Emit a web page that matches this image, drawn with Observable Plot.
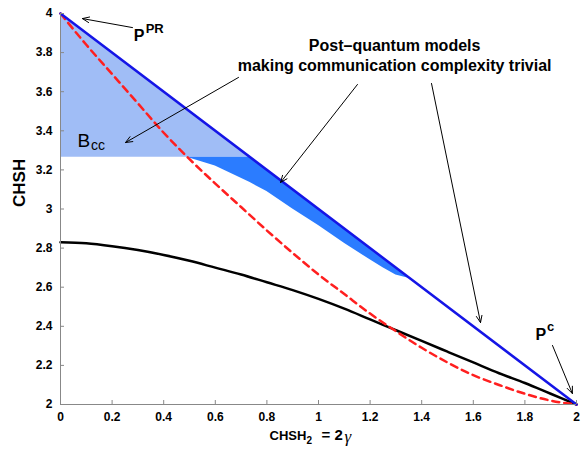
<!DOCTYPE html>
<html><head><meta charset="utf-8">
<script src="https://cdn.jsdelivr.net/npm/d3@7"></script>
<script src="https://cdn.jsdelivr.net/npm/@observablehq/plot@0.6"></script>
<style>body{margin:0;background:#fff}</style>
</head><body><div id="chart"></div>
<script>
// ---- data ----
const gamma = [0,0.1,0.2,0.3,0.4,0.5,0.6,0.7,0.8,0.9,1.0,1.1,1.2,1.3,1.4,1.5,1.6,1.7,1.8,1.9,2.0];
const redCHSH = [4.00,3.84,3.69,3.54,3.39,3.255,3.13,3.01,2.89,2.775,2.665,2.565,2.465,2.375,2.29,2.215,2.15,2.10,2.055,2.02,2.00];
const blackCHSH = [2.83,2.825,2.81,2.79,2.765,2.735,2.70,2.665,2.625,2.585,2.54,2.49,2.435,2.38,2.325,2.27,2.215,2.16,2.11,2.055,2.00];
const blueX = [0, 2];
const blueCHSH = [4, 2];
// B_cc region (light)
const lightX = [0, 0.735];
const lightLow = [3.265, 3.265];
const lightHigh = [4.0, 3.265];
// post-quantum trivial CC region (dark)
const darkX = [0.49,0.60,0.735,0.80,0.90,1.00,1.10,1.20,1.25,1.30,1.357];
const darkLow = [3.265,3.22,3.135,3.09,3.00,2.915,2.825,2.74,2.70,2.662,2.643];
const darkHigh = [3.265,3.265,3.265,3.20,3.10,3.00,2.90,2.80,2.75,2.70,2.643];
const xTicks = [0,0.2,0.4,0.6,0.8,1,1.2,1.4,1.6,1.8,2];
const yTicks = [2,2.2,2.4,2.6,2.8,3,3.2,3.4,3.6,3.8,4];
const xTitleMain = ["CHSH"];
const xTitleSub = ["2"];
const xTitleEq = ["= 2"];
const xTitleGamma = ["\u03B3"];
const yTitle = ["CHSH"];
// annotations
const arrowX1 = [0.279, 0.690, 1.151, 1.438, 1.907];
const arrowY1 = [3.928, 3.673, 3.637, 3.642, 2.302];
const arrowX2 = [0.085, 0.252, 0.853, 1.628, 1.984];
const arrowY2 = [3.974, 3.340, 3.136, 2.419, 2.056];
const boldText = ["P", "Post\u2013quantum models", "making communication complexity trivial", "P"];
const boldX = [0.305, 1.295, 1.295, 1.862];
const boldY = [3.857, 3.806, 3.708, 2.332];
const boldAnchor = ["start", "middle", "middle", "start"];
const supText = ["PR", "c"];
const supX = [0.330, 1.886];
const supY = [3.898, 2.378];
const bccText = ["B"];
const bccX = [0.066];
const bccY = [3.315];
const subText = ["cc"];
const subX = [0.118];
const subY = [3.304];

const font = "'Liberation Sans', Arial, Helvetica, sans-serif";
const rows = (xs, ...cols) => xs.map((x, i) => [x, ...cols.map(c => c[i])]);

const chart = Plot.plot({
  width: 582, height: 451,
  marginLeft: 60, marginRight: 6, marginTop: 13, marginBottom: 47,
  x: {domain: [0, 2]},
  y: {domain: [2, 4]},
  style: {fontFamily: font, fontSize: "12px", fontWeight: "bold", background: "white", color: "black"},
  marks: [
    Plot.areaY(rows(lightX, lightLow, lightHigh), {x: d => d[0], y1: d => d[1], y2: d => d[2], fill: "#a0bdf6"}),
    Plot.areaY(rows(darkX, darkLow, darkHigh), {x: d => d[0], y1: d => d[1], y2: d => d[2], fill: "#2b7cff"}),
    Plot.line(rows(gamma, blackCHSH), {x: d => d[0], y: d => d[1], stroke: "black", strokeWidth: 2.5, curve: "monotone-x"}),
    Plot.line(rows(gamma, redCHSH), {x: d => d[0], y: d => d[1], stroke: "#ff1f1f", strokeWidth: 2.5, strokeDasharray: "7,5", curve: "monotone-x"}),
    Plot.line(rows(blueX, blueCHSH), {x: d => d[0], y: d => d[1], stroke: "#1515e6", strokeWidth: 2.5}),
    Plot.ruleX([0], {stroke: "#888", strokeWidth: 1}),
    Plot.ruleY([2], {stroke: "#888", strokeWidth: 1}),
    Plot.axisX({ticks: xTicks, tickFormat: d3.format("~g"), tickSize: -4, tickPadding: 12, stroke: "#888", fill: "black", label: null}),
    Plot.axisY({ticks: yTicks, tickFormat: d3.format("~g"), tickSize: -4, tickPadding: 12, stroke: "#888", fill: "black", label: null}),
    // x axis title, composed of pieces
    Plot.text(xTitleMain, {text: d => d, frameAnchor: "bottom", textAnchor: "start", lineAnchor: "bottom", dx: -49, dy: 35, fontSize: 13, fontWeight: "bold"}),
    Plot.text(xTitleSub, {text: d => d, frameAnchor: "bottom", textAnchor: "start", lineAnchor: "bottom", dx: -12, dy: 39, fontSize: 10, fontWeight: "bold"}),
    Plot.text(xTitleEq, {text: d => d, frameAnchor: "bottom", textAnchor: "start", lineAnchor: "bottom", dx: 3, dy: 35, fontSize: 15, fontWeight: "bold"}),
    Plot.text(xTitleGamma, {text: d => d, frameAnchor: "bottom", textAnchor: "start", lineAnchor: "bottom", dx: 26, dy: 37, fontSize: 17, fontWeight: "normal", fontStyle: "italic", fontFamily: "'Liberation Serif', 'DejaVu Serif', serif"}),
    Plot.text(yTitle, {text: d => d, frameAnchor: "left", rotate: -90, dx: -41, dy: -2, fontSize: 17, fontWeight: "bold"}),
    Plot.arrow(rows(arrowX1, arrowY1, arrowX2, arrowY2), {x1: d => d[0], y1: d => d[1], x2: d => d[2], y2: d => d[3], stroke: "black", strokeWidth: 1, headLength: 11, headAngle: 45}),
    Plot.text(rows(boldX, boldY, boldText, boldAnchor), {x: d => d[0], y: d => d[1], text: d => d[2], textAnchor: d => d[3], lineAnchor: "bottom", fontSize: 16, fontWeight: "bold"}),
    Plot.text(rows(supX, supY, supText), {x: d => d[0], y: d => d[1], text: d => d[2], textAnchor: "start", lineAnchor: "bottom", fontSize: 13, fontWeight: "bold"}),
    Plot.text(rows(bccX, bccY, bccText), {x: d => d[0], y: d => d[1], text: d => d[2], textAnchor: "start", lineAnchor: "bottom", fontSize: 19, fontWeight: "normal"}),
    Plot.text(rows(subX, subY, subText), {x: d => d[0], y: d => d[1], text: d => d[2], textAnchor: "start", lineAnchor: "bottom", fontSize: 14, fontWeight: "normal"})
  ]
});
document.getElementById("chart").appendChild(chart);
</script>
</body></html>
